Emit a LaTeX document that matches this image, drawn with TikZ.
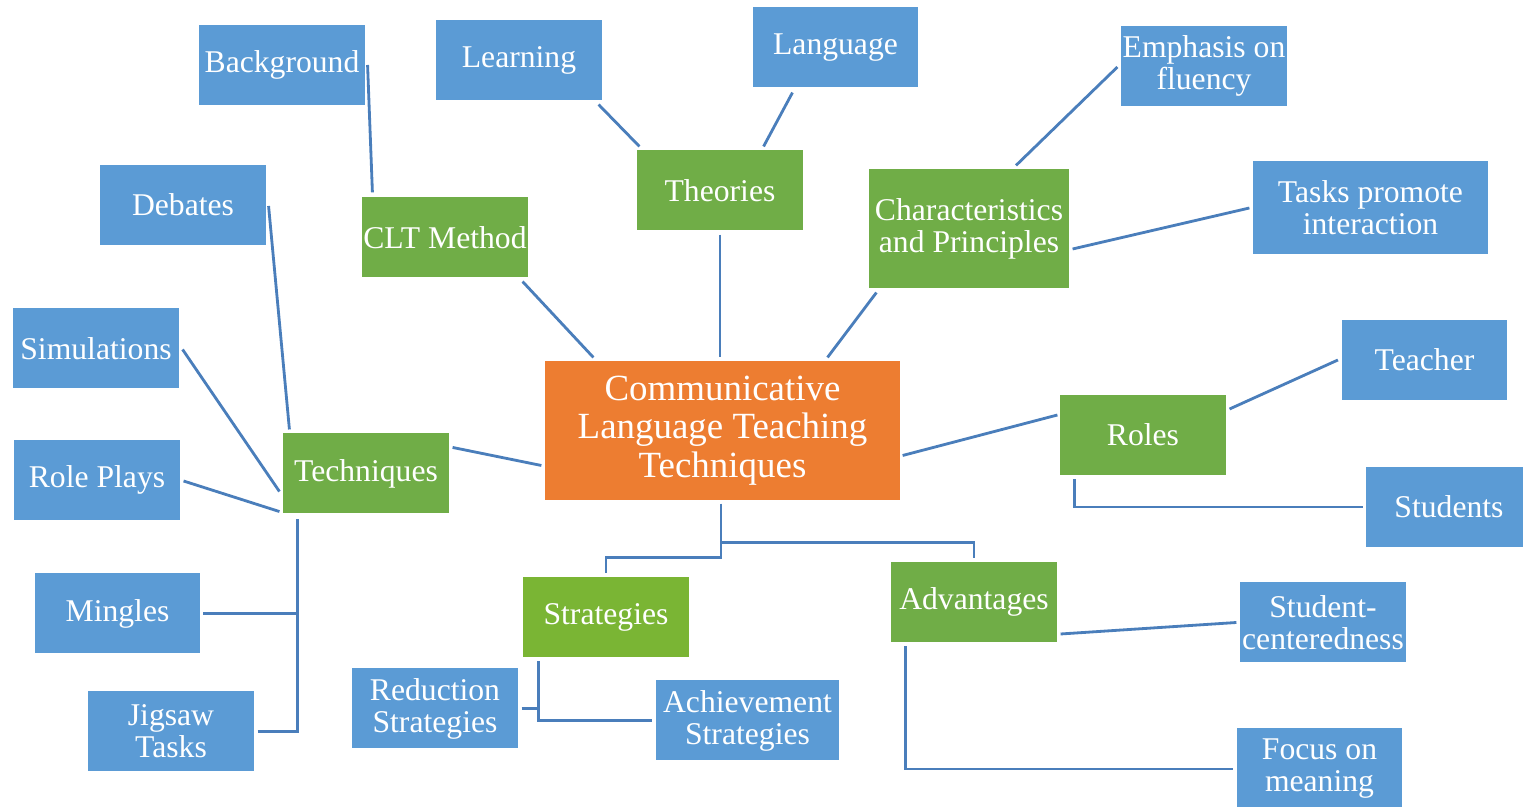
\documentclass[tikz,border=0pt]{standalone}
\usepackage{fontspec}
\setmainfont{Liberation Serif}
\usetikzlibrary{calc}
\definecolor{leafblue}{HTML}{5B9BD5}
\definecolor{topicgreen}{HTML}{70AD47}
\definecolor{stratgreen}{HTML}{7AB534}
\definecolor{coreorange}{HTML}{ED7D31}
\definecolor{linkblue}{HTML}{4A7EBB}

\begin{document}
\begin{tikzpicture}[x=0.01cm, y=-0.01cm,
    box/.style={text=white, inner sep=0pt, align=center, draw=white, line width=0.3pt,
      minimum width=1.66cm, minimum height=0.81cm, font=\fontsize{9}{9.1}\selectfont},
    leaf/.style={box, fill=leafblue},
    topic/.style={box, fill=topicgreen},
    link/.style={draw=linkblue, line width=0.8pt}]
    \useasboundingbox (0,0) rectangle (1523,807);

    % Hub
    \node[box, fill=coreorange, minimum width=3.55cm, minimum height=1.39cm,
      font=\fontsize{10.5}{11}\selectfont] (clt) at (722.5,430.5)
      {Communicative\\Language Teaching\\Techniques};

    % Upper topics
    \node[leaf] (bg) at (282,65) {Background};
    \node[topic] (cltm) at (445,237.5) {CLT Method};
    \node[leaf] (lrn) at (519,60.5) {Learning};
    \node[leaf] (lang) at (835.5,47.5) {Language};
    \node[topic] (theo) at (720,190.5) {Theories};
    \node[topic, minimum width=2cm, minimum height=1.2cm] (chars) at (969,229)
      {Characteristics\\and Principles};
    \node[leaf] (emph) at (1204,66) {Emphasis on\\fluency};
    \node[leaf, minimum width=2.35cm, minimum height=0.94cm] (tasks) at (1370.5,208)
      {Tasks promote\\interaction};

    % Techniques
    \node[topic] (tech) at (366,473.5) {Techniques};
    \node[leaf] (deb) at (183,205) {Debates};
    \node[leaf] (sim) at (96,348.5) {Simulations};
    \node[leaf] (role) at (97,480) {Role Plays};
    \node[leaf] (ming) at (117.5,613.5) {Mingles};
    \node[leaf] (jig) at (171,731.5) {Jigsaw\\Tasks};

    % Roles
    \node[topic] (roles) at (1143,435) {Roles};
    \node[leaf] (teach) at (1424.5,360) {Teacher};
    \node[leaf] (stud) at (1449,507) {Students};

    % Strategies
    \node[box, fill=stratgreen] (strat) at (606,617) {Strategies};
    \node[leaf] (red) at (435,708.5) {Reduction\\Strategies};
    \node[leaf, minimum width=1.83cm] (ach) at (747.5,720.5) {Achievement\\Strategies};

    % Advantages
    \node[topic] (adv) at (974,602) {Advantages};
    \node[leaf] (sc) at (1323,622.5) {Student-\\centeredness};
    \node[leaf, minimum width=1.65cm, minimum height=0.82cm] (focus) at (1319.5,769)
      {Focus on\\meaning};

    % upper links
    \draw[link] ($(bg.east)+(2,0)$) -- ($(cltm.north west)+(11,-4)$);
    \draw[link] ($(cltm.south east)+(-6,3)$) -- ($(clt.north west)+(49,-3)$);
    \draw[link] ($(lrn.south east)+(-4,3)$) -- ($(theo.north west)+(3,-3)$);
    \draw[link] ($(lang.south)+(-43,4)$) -- ($(theo.north east)+(-40,-3)$);
    \draw[link] ($(theo.south)+(0,3)$) -- ($(theo.south |- clt.north)+(0,-3)$);
    \draw[link] ($(chars.south west)+(8,3)$) -- ($(clt.north)+(105,-3)$);
    \draw[link] ($(chars.north)+(47,-3)$) -- ($(emph.west)+(-3,1)$);
    \draw[link] ($(chars.east)+(3,20)$) -- ($(tasks.west)+(-3,0)$);

    % left links
    \draw[link] ($(deb.east)+(2,1)$) -- ($(tech.north west)+(7,-3)$);
    \draw[link] ($(sim.east)+(3,1)$) -- ($(tech.west)+(-3,18)$);
    \draw[link] ($(role.east)+(3,1)$) -- ($(tech.south west)+(-3,-3)$);
    \draw[link] ($(tech.north east)+(3,15)$) -- ($(clt.west)+(-3,35)$);
    \draw[link] ($(ming.east)+(2,0)$) -| ($(tech.south west)+(15,4)$);
    \draw[link] ($(jig.east)+(3,0)$) -| ($(tech.south west)+(15,4)$);

    % right links
    \draw[link] ($(clt.east)+(2,25)$) -- ($(roles.west)+(-2,-20)$);
    \draw[link] ($(roles.east)+(3,-26)$) -- ($(teach.west)+(-3,0)$);
    \draw[link] ($(roles.south west)+(15,3)$) |- ($(stud.west)+(-2,0)$);

    % lower links
    \draw[link] ($(clt.south)+(-1.5,3)$) -- ++(0,54) -| ($(strat.north)+(0,-3)$);
    \draw[link] ($(clt.south)+(-1.5,42)$) -| ($(adv.north)+(0,-3)$);
    \draw[link] ($(strat.south west)+(16,3)$) |- ($(ach.west)+(-3,0)$);
    \draw[link] ($(red.east)+(3,0)$) -| ($(strat.south west)+(16,3)$);
    \draw[link] ($(adv.east)+(3,32)$) -- ($(sc.west)+(-3,0)$);
    \draw[link] ($(adv.south west)+(15,3)$) |- ($(focus.west)+(-3,0)$);
\end{tikzpicture}
\end{document}
